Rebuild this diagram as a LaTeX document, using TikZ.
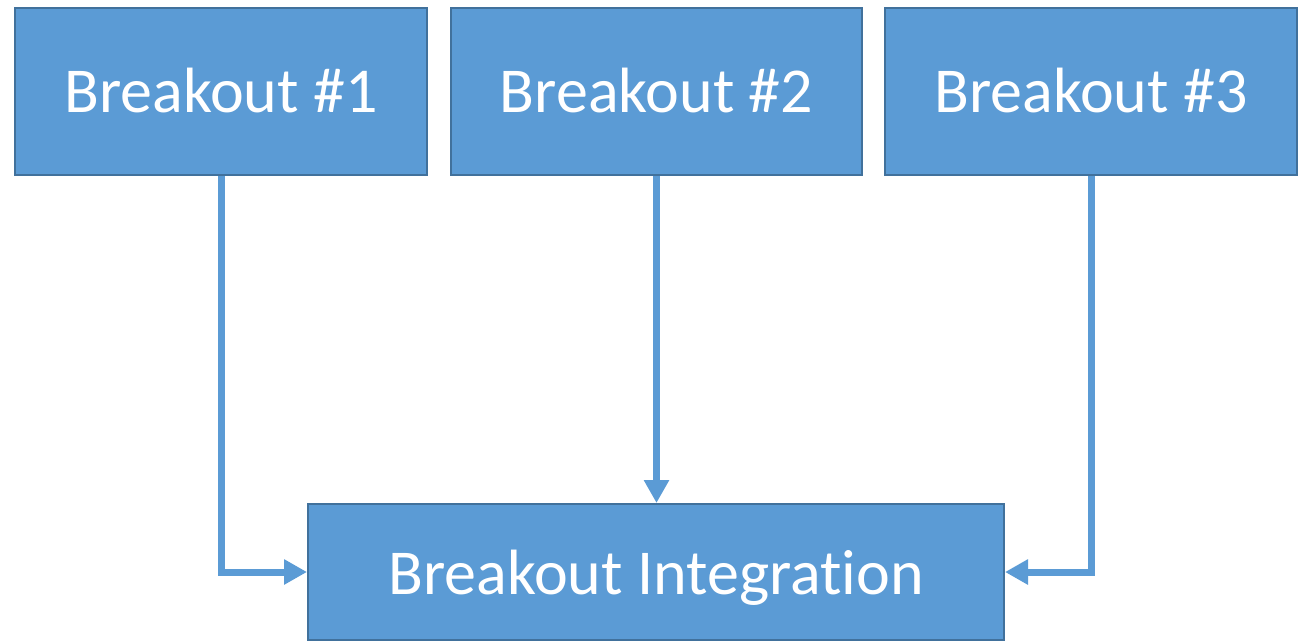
\documentclass[tikz,border=0pt]{standalone}
\usepackage{fontspec}
\setmainfont[Ligatures={NoCommon,NoRequired,NoContextual}]{Carlito}
\usetikzlibrary{arrows.meta}
\definecolor{boxfill}{HTML}{5B9BD5}
\definecolor{boxline}{HTML}{41719C}
\tikzset{
  stagebox/.style={draw=boxline, line width=2pt, fill=boxfill, text=white,
    inner sep=0pt, font=\fontsize{64}{70}\selectfont,
    text height=41pt, text depth=0pt},
  mergebox/.style={stagebox, text height=44pt},
  flow/.style={draw=boxfill, line width=7pt,
    -{Triangle[length=23pt,width=24pt]}},
}
\begin{document}
\begin{tikzpicture}[x=1pt,y=-1pt]
  \useasboundingbox (0,0) rectangle (1309,642);
  \node[stagebox, minimum width=412pt, minimum height=167pt] (b1) at (221,91.5) {Breakout \#1};
  \node[stagebox, minimum width=411pt, minimum height=167pt] (b2) at (656.5,91.5) {Breakout \#2};
  \node[stagebox, minimum width=412pt, minimum height=167pt] (b3) at (1091,91.5) {Breakout \#3};
  \node[mergebox, minimum width=696pt, minimum height=136pt] (bi) at (656,572) {Breakout Integration};
  \draw[flow] ([xshift=0.5pt]b1.south) |- (bi.west);
  \draw[flow] (b2.south) -- (b2.south |- bi.north);
  \draw[flow] (b3.south) |- (bi.east);
\end{tikzpicture}
\end{document}
